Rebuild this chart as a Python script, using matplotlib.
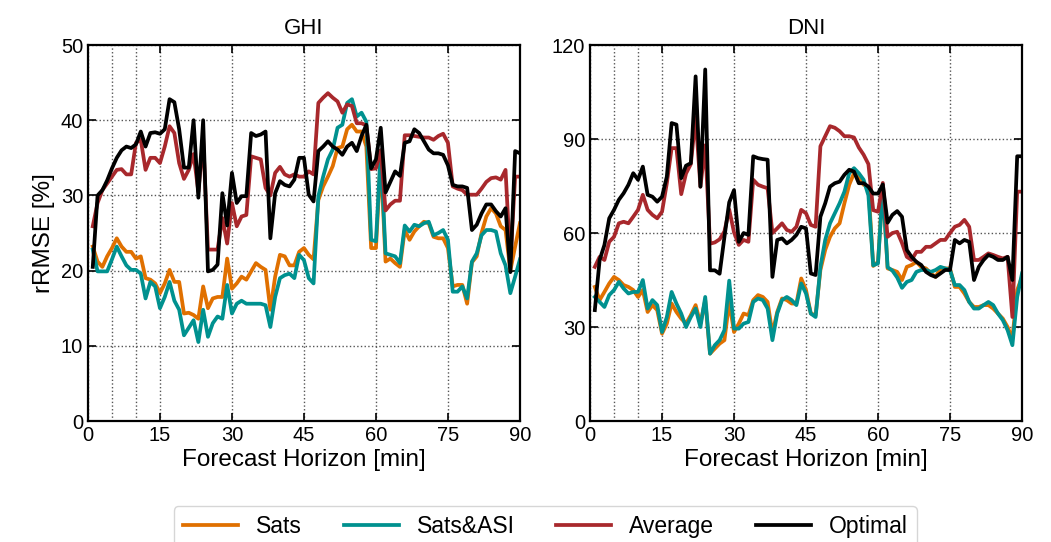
import numpy as np
import matplotlib
matplotlib.use("Agg")
import matplotlib.pyplot as plt

plt.rcParams['font.family'] = ['Liberation Sans', 'DejaVu Sans']

minutes = np.arange(1, 91)

ghi_sats = [23.2, 21.2, 20.5, 21.9, 23.0, 24.3, 23.2, 22.5, 22.5, 21.6,
            21.9, 19.0, 18.8, 18.3, 17.0, 18.3, 20.1, 18.5, 18.5, 14.3,
            14.4, 14.1, 13.6, 17.9, 15.0, 16.3, 16.5, 16.5, 21.6, 17.6,
            18.3, 19.2, 18.8, 19.9, 21.0, 20.5, 20.1, 14.8, 19.2, 22.1,
            21.9, 20.7, 20.7, 22.5, 23.0, 22.1, 21.5, 29.4, 31.2, 32.5,
            33.9, 36.3, 36.5, 38.8, 39.4, 38.5, 38.5, 36.5, 23.0, 23.0,
            35.0, 21.2, 21.6, 21.0, 20.5, 25.4, 24.1, 25.2, 25.9, 26.5,
            26.3, 24.5, 24.3, 24.3, 23.0, 17.9, 18.1, 18.1, 15.6, 21.1,
            21.9, 25.0, 27.2, 28.3, 27.6, 25.9, 25.4, 20.0, 23.2, 26.3]
ghi_sats_asi = [22.8, 19.9, 19.9, 19.9, 21.5, 23.2, 21.9, 20.7, 20.1, 20.1,
                19.6, 16.3, 18.5, 17.9, 15.0, 16.5, 18.5, 16.0, 14.8, 11.4,
                12.4, 13.4, 10.5, 14.8, 11.2, 13.0, 13.9, 13.6, 18.1, 14.3,
                15.6, 16.0, 15.6, 15.6, 15.6, 15.6, 15.4, 12.5, 16.5, 19.0,
                19.4, 19.6, 19.0, 22.1, 21.4, 19.0, 18.3, 29.9, 32.5, 34.8,
                36.1, 39.0, 39.4, 42.3, 42.8, 40.5, 41.0, 39.8, 24.1, 23.9,
                36.0, 22.3, 22.1, 21.9, 21.0, 26.0, 25.2, 26.1, 25.9, 26.3,
                26.5, 24.7, 25.0, 25.4, 24.1, 17.2, 17.2, 17.9, 16.3, 21.2,
                22.3, 24.7, 25.4, 25.4, 25.2, 22.3, 20.7, 17.0, 19.2, 21.5]
ghi_average = [25.9, 29.0, 30.7, 31.6, 32.5, 33.4, 33.5, 32.8, 32.8, 37.0,
               37.4, 33.4, 35.0, 35.0, 34.3, 36.5, 39.2, 38.3, 34.3, 32.2,
               33.4, 35.5, 30.5, 37.5, 22.8, 22.8, 22.8, 27.0, 23.6, 29.0,
               25.9, 27.2, 27.4, 35.2, 35.0, 34.8, 31.0, 30.0, 33.0, 33.8,
               32.8, 32.5, 32.8, 32.5, 32.5, 33.2, 32.8, 42.3, 43.0, 43.6,
               43.0, 42.5, 41.0, 42.1, 41.9, 39.6, 39.6, 39.3, 33.5, 33.6,
               36.0, 28.0, 28.8, 29.3, 29.3, 38.0, 38.0, 37.9, 37.8, 37.7,
               37.7, 37.4, 37.9, 38.2, 37.0, 31.2, 30.9, 30.7, 30.1, 30.1,
               30.1, 30.9, 31.8, 32.3, 32.4, 32.1, 33.4, 21.0, 32.5, 32.5]
ghi_optimal = [20.5, 30.0, 30.7, 32.0, 33.6, 35.0, 36.0, 36.5, 36.3, 36.8,
               38.5, 36.5, 38.3, 38.4, 38.2, 38.8, 42.8, 42.4, 38.8, 33.7,
               33.7, 40.0, 29.7, 40.0, 19.9, 20.1, 20.8, 30.3, 26.0, 33.0,
               29.0, 29.9, 29.9, 38.3, 37.9, 38.1, 38.5, 24.3, 30.3, 31.9,
               31.4, 31.2, 32.1, 35.0, 35.0, 30.1, 29.2, 35.9, 36.5, 37.2,
               36.5, 36.1, 35.4, 36.5, 37.0, 35.9, 37.9, 39.4, 33.6, 34.8,
               39.0, 30.4, 31.8, 33.2, 32.6, 37.0, 37.2, 38.8, 38.3, 37.2,
               36.1, 35.6, 35.6, 35.4, 34.0, 31.4, 31.2, 31.2, 31.0, 25.4,
               26.1, 27.6, 28.8, 28.8, 27.9, 27.2, 28.3, 19.8, 35.9, 35.6]

dni_sats = [42.8, 38.6, 41.2, 43.9, 46.0, 45.0, 43.4, 42.8, 41.8, 39.6,
            41.8, 34.8, 37.0, 35.4, 27.9, 31.1, 37.5, 34.8, 32.7, 31.1,
            33.8, 37.0, 31.1, 38.6, 21.5, 23.1, 24.7, 25.8, 38.0, 28.4,
            31.1, 34.3, 33.8, 38.6, 40.2, 39.6, 38.0, 27.9, 34.8, 39.1,
            38.6, 37.5, 37.5, 45.5, 41.8, 34.3, 33.8, 48.2, 54.6, 58.8,
            61.5, 63.1, 69.5, 75.4, 79.1, 77.5, 75.4, 74.8, 49.5, 50.8,
            75.0, 48.7, 48.2, 47.6, 45.0, 49.2, 49.8, 50.8, 49.2, 48.7,
            47.1, 46.0, 48.7, 48.7, 48.7, 42.8, 42.8, 40.7, 38.0, 36.4,
            36.4, 37.0, 37.0, 35.9, 34.3, 32.7, 30.0, 26.3, 41.8, 46.0]
dni_sats_asi = [39.6, 38.0, 36.4, 40.2, 41.8, 44.4, 42.3, 40.7, 41.2, 41.2,
                45.0, 35.9, 38.6, 37.0, 28.4, 33.2, 41.2, 37.5, 34.3, 30.0,
                33.2, 35.9, 30.0, 39.6, 21.5, 24.2, 25.8, 29.0, 44.8, 29.5,
                29.5, 31.1, 31.6, 38.0, 39.1, 38.6, 35.9, 25.8, 34.3, 38.6,
                39.6, 38.6, 37.0, 43.9, 40.7, 34.3, 33.2, 49.2, 57.8, 63.1,
                66.3, 69.5, 73.2, 79.1, 80.7, 79.1, 77.0, 72.0, 49.7, 50.3,
                75.0, 49.1, 48.0, 45.8, 42.5, 44.4, 45.0, 47.6, 48.2, 48.2,
                47.6, 48.2, 49.2, 48.7, 48.2, 43.4, 43.4, 41.8, 38.0, 35.9,
                35.9, 37.0, 38.0, 37.0, 34.3, 32.2, 29.0, 24.2, 39.6, 47.1]
dni_average = [49.2, 52.4, 51.4, 57.2, 58.8, 63.1, 63.6, 63.1, 65.2, 67.4,
               72.2, 67.4, 65.8, 64.7, 66.8, 75.9, 87.1, 87.1, 72.4, 79.0,
               82.0, 97.0, 74.8, 88.0, 56.6, 57.0, 58.0, 60.5, 67.5, 60.2,
               56.2, 57.8, 57.2, 77.0, 75.4, 74.8, 74.3, 60.0, 61.5, 63.1,
               61.0, 60.4, 62.0, 67.4, 66.3, 62.6, 62.0, 87.7, 90.9, 94.1,
               93.6, 92.5, 90.9, 90.9, 90.5, 87.3, 85.0, 82.0, 67.3, 66.8,
               76.0, 58.8, 60.0, 60.4, 56.8, 52.4, 51.4, 54.0, 54.0, 55.6,
               55.6, 56.7, 57.8, 57.8, 60.0, 62.0, 62.6, 64.2, 62.0, 51.4,
               51.4, 52.4, 53.5, 53.0, 52.4, 51.9, 52.4, 33.2, 73.2, 73.2]
dni_optimal = [35.4, 51.4, 56.2, 64.7, 67.4, 70.6, 72.7, 75.4, 79.1, 77.0,
               81.2, 72.2, 71.6, 70.0, 71.6, 78.0, 95.1, 94.6, 77.5, 81.5,
               82.3, 110.0, 74.8, 112.2, 48.1, 48.1, 47.0, 58.7, 69.8, 73.7,
               57.2, 60.0, 59.4, 84.5, 83.9, 83.6, 83.4, 46.0, 57.8, 58.3,
               56.7, 57.8, 59.4, 62.0, 61.5, 47.1, 46.6, 65.2, 69.5, 74.8,
               75.9, 76.4, 78.6, 80.2, 79.6, 75.9, 75.9, 74.8, 72.6, 72.6,
               75.5, 63.3, 65.8, 67.0, 65.2, 54.6, 52.4, 50.8, 49.8, 47.6,
               46.6, 46.0, 47.1, 48.2, 48.2, 57.8, 56.7, 57.8, 57.2, 45.0,
               49.2, 51.4, 53.0, 52.4, 51.4, 51.4, 52.4, 45.0, 84.5, 84.5]

labels = ['Sats', 'Sats&ASI', 'Average', 'Optimal']
colors = ['#e07000', '#00918f', '#a8282c', '#000000']

fig = plt.figure(figsize=(10.51, 5.42), dpi=100)
ax1 = fig.add_axes([0.0837, 0.2232, 0.411, 0.6937])
ax2 = fig.add_axes([0.5614, 0.2232, 0.411, 0.6937])

panels = [
    (ax1, 'GHI', [ghi_sats, ghi_sats_asi, ghi_average, ghi_optimal], 50, 10),
    (ax2, 'DNI', [dni_sats, dni_sats_asi, dni_average, dni_optimal], 120, 30),
]

for ax, title, series, ymax, ystep in panels:
    for vals, lab, col in zip(series, labels, colors):
        ax.plot(minutes, vals, color=col, lw=2.7, label=lab)
    ax.set_xlim(0, 90)
    ax.set_ylim(0, ymax)
    ax.set_xticks(np.arange(0, 91, 15))
    ax.set_xticks([5, 10], minor=True)
    ax.set_yticks(np.arange(0, ymax + 1, ystep))
    ax.grid(True, which='both', ls=':', color='#555555', lw=1.0)
    ax.tick_params(which='major', direction='in', length=6, width=1.2, labelsize=14.5,
                   top=True, right=True)
    ax.tick_params(which='minor', direction='in', length=0)
    for sp in ax.spines.values():
        sp.set_linewidth(1.6)
    ax.set_title(title, fontsize=16, pad=8)
    ax.set_xlabel('Forecast Horizon [min]', fontsize=17.5, labelpad=3)

ax1.set_ylabel('rRMSE [%]', fontsize=17.5)

handles, labs = ax1.get_legend_handles_labels()
fig.legend(handles, labs, loc='center', bbox_to_anchor=(0.519, 0.028), ncol=4,
           fontsize=16.5, frameon=True, edgecolor='#cccccc', handlelength=2.4,
           columnspacing=1.8, borderpad=0.4)

fig.savefig('out.png', dpi=100)
